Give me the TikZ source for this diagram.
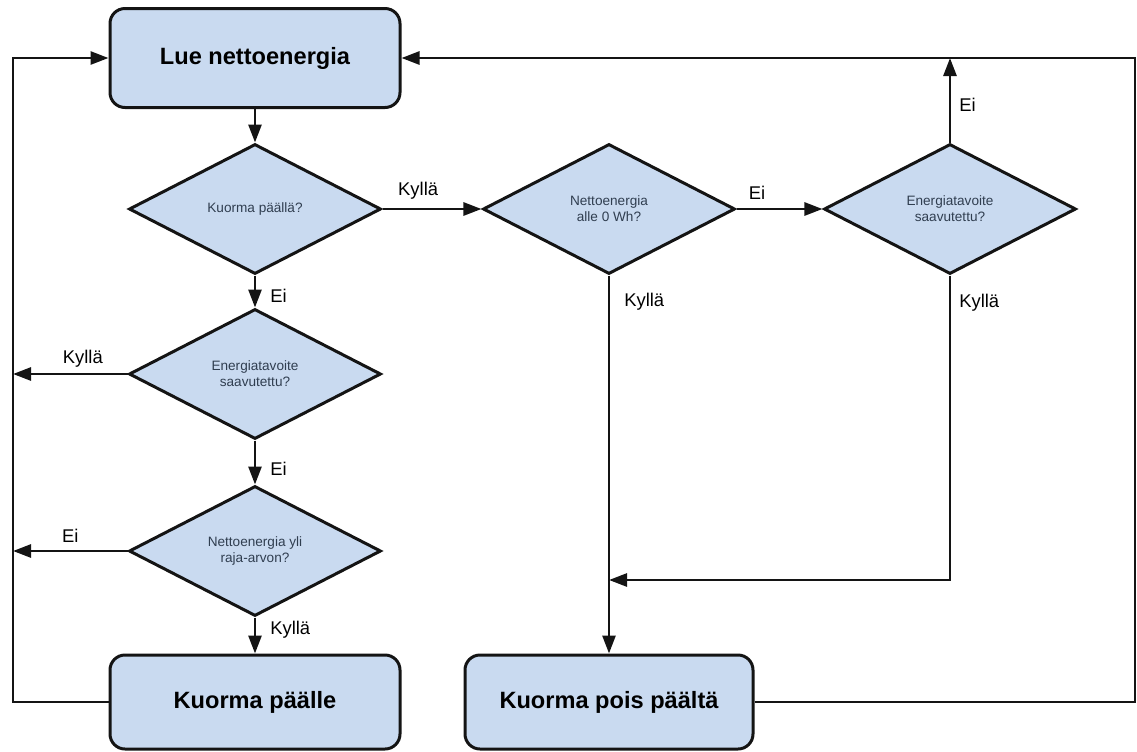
\documentclass[tikz,border=0pt]{standalone}
\usepackage{fontspec}
\setmainfont{Liberation Sans}
\usetikzlibrary{shapes.geometric, arrows.meta}

\definecolor{boxblue}{RGB}{201,218,240}
\definecolor{edgegray}{RGB}{20,20,20}
\definecolor{asktext}{RGB}{48,62,80}

\tikzset{
	stepbox/.style={draw=edgegray, line width=1.5pt, fill=boxblue, rounded corners=7.5pt, minimum width=145pt, minimum height=47pt, font=\fontsize{11.8}{14}\selectfont\bfseries},
	ask/.style={diamond, draw=edgegray, line width=1.5pt, fill=boxblue, aspect=2, inner sep=1pt, minimum width=126pt, minimum height=65pt, align=center, text=asktext, font=\fontsize{6.8}{8}\selectfont},
	flow/.style={draw=edgegray, line width=1.35pt, -{Triangle[length=9pt,width=6.5pt]}},
	answer/.style={font=\fontsize{9.2}{11}\selectfont, inner sep=1pt},
}

\begin{document}
\begin{tikzpicture}[x=0.5pt, y=-0.5pt]
	\useasboundingbox (0,0) rectangle (1137,751);
	
	\node[stepbox, minimum height=49.5pt] (read) at (255,58) {Lue nettoenergia};
	\node[ask] (loadon) at (255,209) {Kuorma päällä?};
	\node[ask] (goal1) at (255,374) {Energiatavoite\\saavutettu?};
	\node[ask] (limit) at (255,551) {Nettoenergia yli\\raja-arvon?};
	\node[stepbox] (on) at (255,702) {Kuorma päälle};
	
	\node[ask] (below) at (609,209) {Nettoenergia\\alle 0 Wh?};
	\node[ask] (goal2) at (950,209) {Energiatavoite\\saavutettu?};
	\node[stepbox, minimum width=144pt] (off) at (609,702) {Kuorma pois päältä};
	
	\coordinate (railL) at (13,0);
	\coordinate (railR) at (1135,0);
	\coordinate (join) at (609,580);
	
	\draw[flow] (read) -- (loadon);
	\draw[flow] (loadon) -- node[answer, above=3pt, pos=0.36] {Kyllä} (below);
	\draw[flow] (loadon) -- node[answer, right=6pt, pos=0.63] {Ei} (goal1);
	\draw[flow] (goal1.west) -- node[answer, above=1.5pt, pos=0.39] {Kyllä} (goal1.west -| railL);
	\draw[flow] (goal1) -- node[answer, right=6pt, pos=0.65] {Ei} (limit);
	\draw[flow] (limit.west) -- node[answer, above=2.5pt, pos=0.5] {Ei} (limit.west -| railL);
	\draw[flow] (limit) -- node[answer, right=6pt, pos=0.35] {Kyllä} (on);
	\draw[flow] (on.west) -| (railL |- read.west) -- (read.west);
	
	\draw[flow] (below) -- node[answer, above=3pt, pos=0.24] {Ei} (goal2);
	\draw[flow] (below) -- node[answer, right=6pt, pos=0.07] {Kyllä} (off);
	\draw[flow] (goal2.north) -- node[answer, right=3pt, pos=0.44] {Ei} (goal2.north |- read.east);
	\draw[flow] (goal2.south) -- node[answer, right=3pt, pos=0.09] {Kyllä} (goal2.south |- join) -- (join);
	\draw[flow] (off.east) -| (railR |- read.east) -- (read.east);
\end{tikzpicture}
\end{document}
